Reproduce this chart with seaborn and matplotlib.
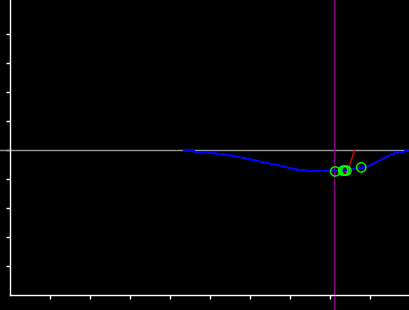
import matplotlib
matplotlib.use("Agg")
import matplotlib.pyplot as plt
import seaborn as sns
import pandas as pd

# curve values
curve_x = [4.34, 4.94, 5.22, 5.57, 5.94, 6.24, 6.42, 6.69, 6.99, 7.24, 7.49, 7.82, 8.09,
           8.30, 8.54, 8.74, 8.92, 9.19, 9.42, 9.62, 9.82, 9.99]
curve_y = [-0.03, -0.08, -0.13, -0.20, -0.30, -0.40, -0.45, -0.52, -0.62, -0.69, -0.72, -0.74, -0.74,
           -0.72, -0.66, -0.62, -0.58, -0.40, -0.23, -0.11, -0.06, -0.03]
pts_x = [8.13, 8.33, 8.37, 8.41, 8.78]
pts_y = [-0.74, -0.71, -0.71, -0.71, -0.60]
red_x = [8.19, 8.44, 8.61]
red_y = [-0.83, -0.74, -0.02]
vline_x = 8.1
xticks = [1, 2, 3, 4, 5, 6, 7, 8, 9]
yticks = [-4, -3, -2, -1, 0, 1, 2, 3, 4]

sns.set_style("dark", {"axes.facecolor": "black", "figure.facecolor": "black"})

fig = plt.figure(figsize=(4.1, 3.1), dpi=100)
ax = fig.add_axes([10 / 410, 15 / 310, 400 / 410, 295 / 310])
ax.set_facecolor("black")

ax.axhline(0, xmin=-0.03, xmax=1.0, color="#999999", lw=1.0, clip_on=False, zorder=1)
ax.axvline(vline_x, ymin=-0.06, ymax=1.0, color="#8b008b", lw=1.0, clip_on=False, zorder=2)

df = pd.DataFrame({"x": curve_x, "y": curve_y})
sns.lineplot(data=df, x="x", y="y", ax=ax, color="#0000ff", lw=0.75, sort=False,
             antialiased=False, zorder=3)
ax.plot(red_x, red_y, color="#dd0000", lw=1.0, zorder=4)
dp = pd.DataFrame({"x": pts_x, "y": pts_y})
sns.scatterplot(data=dp, x="x", y="y", ax=ax, s=45, facecolor="none",
                edgecolor="#00ff00", linewidth=1.0, zorder=5)

ax.set_xlim(0, 10)
ax.set_ylim(-5, 5 + 5 / 29)
ax.set_xticks(xticks)
ax.set_yticks(yticks)
ax.set_xticklabels([])
ax.set_yticklabels([])
ax.set_xlabel("")
ax.set_ylabel("")
ax.grid(False)
for s in ["top", "right"]:
    ax.spines[s].set_visible(False)
for s in ["left", "bottom"]:
    ax.spines[s].set_visible(True)
    ax.spines[s].set_color("white")
    ax.spines[s].set_linewidth(1.0)
ax.tick_params(axis="both", colors="white", direction="out", length=3, width=1,
               bottom=True, left=True)

fig.savefig("out.png", dpi=100, facecolor="black")
